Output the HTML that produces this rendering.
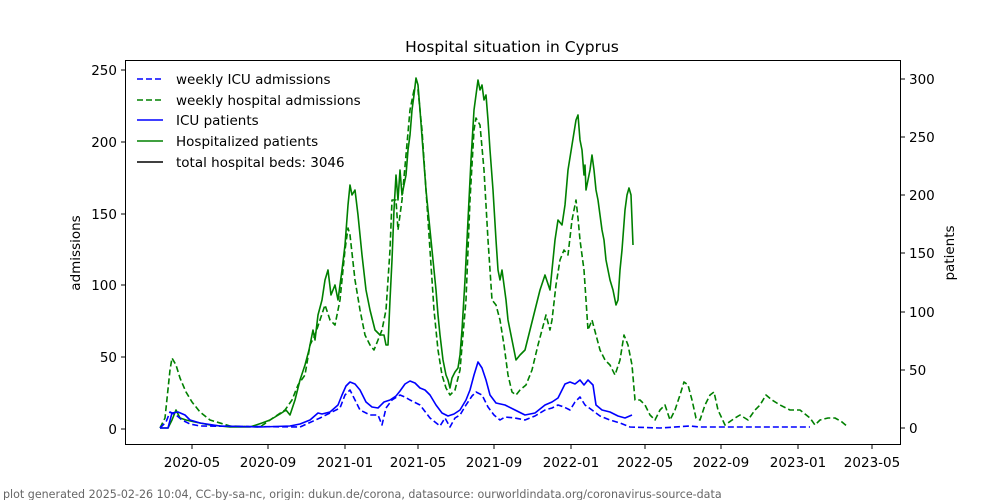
<!DOCTYPE html>
<html><head><meta charset="utf-8"><style>body{margin:0;background:#fff}svg{display:block;font-family:"DejaVu Sans","Liberation Sans",sans-serif}</style></head><body>
<svg width="1000" height="500" viewBox="0 0 1000 500">
<rect width="1000" height="500" fill="#fff"/>
<text x="512" y="52" font-size="15.5" text-anchor="middle">Hospital situation in Cyprus</text>
<g fill="none" stroke-width="1.6" stroke-linejoin="round">
<polyline stroke="green" stroke-dasharray="6,3" points="160,428 165,418 170,370 172,358 176,365 180,378 186,392 192,402 200,412 210,420 230,426 260,427 270,420 285,410 292,400 298,385 305,375 310,345 315,335 320,320 325,305 330,320 335,325 340,300 345,250 348,228 350,235 355,280 360,310 365,335 370,345 374,350 378,340 382,330 386,310 390,250 392,200 396,200 398,230 402,200 406,155 410,110 414,90 418,90 422,130 426,190 430,250 434,310 438,350 442,375 446,388 450,395 455,390 460,370 466,300 470,200 474,130 476,118 480,125 484,170 488,240 492,300 496,305 500,320 504,345 508,375 512,392 516,395 520,390 526,385 532,370 538,345 542,330 546,315 550,330 552,320 556,285 560,260 564,250 568,255 572,220 576,200 578,218 580,240 584,270 588,330 592,320 596,335 600,350 605,360 610,365 615,375 620,360 624,335 628,345 632,365 635,400 640,400 645,405 650,415 655,420 660,410 665,405 670,420 675,410 680,395 684,382 688,385 692,400 696,418 700,420 705,405 710,395 714,392 718,410 725,425 735,418 740,415 748,420 755,410 760,405 766,395 772,400 780,405 790,410 800,410 810,418 815,425 820,420 828,418 835,418 842,422 848,427"/>
<polyline stroke="green" points="160,428 168,428 172,420 176,410 180,418 186,420 195,422 210,425 230,427 250,427 262,423 270,420 280,414 286,410 290,415 295,400 300,380 305,365 309,350 313,330 315,340 318,315 322,300 325,280 328,270 331,295 335,285 338,300 342,270 345,245 348,205 350,185 352,195 355,190 358,215 362,255 366,290 370,310 375,330 380,335 384,335 386,345 388,345 390,300 392,260 394,210 396,175 398,200 400,170 402,195 404,185 406,175 408,150 410,135 412,110 414,95 416,78 418,85 420,110 423,150 426,190 430,230 433,260 436,290 438,315 440,335 443,360 446,375 448,380 450,388 452,378 455,372 458,368 460,355 462,330 465,280 468,220 471,160 474,110 476,95 478,80 480,90 482,85 484,100 486,95 488,120 490,150 493,190 496,240 498,270 500,280 502,270 504,285 506,300 508,320 512,340 516,360 520,355 525,350 530,330 535,310 540,290 545,275 550,290 552,270 555,240 558,220 562,225 565,205 568,170 572,145 576,120 578,115 580,140 582,150 584,175 585,165 586,190 588,180 590,170 592,155 594,170 596,190 598,200 600,215 602,230 604,240 606,260 610,280 613,290 616,305 618,300 620,270 622,250 625,210 627,195 629,188 631,195 633,245"/>
<polyline stroke="blue" stroke-dasharray="6,3" points="160,428 166,422 170,412 176,415 182,420 190,424 200,426 300,427 320,418 330,413 340,408 345,395 350,390 355,400 360,410 370,415 378,415 382,425 386,408 392,400 400,395 405,397 410,400 420,405 430,418 440,426 445,418 450,427 455,418 460,415 466,405 472,396 476,392 482,395 488,407 494,415 500,420 505,417 515,418 525,420 535,416 545,410 552,408 558,405 564,407 570,410 575,402 580,397 585,405 592,410 600,416 610,420 620,423 630,427 660,428 690,426 700,427 810,427"/>
<polyline stroke="blue" points="160,428 168,428 172,413 178,412 185,415 190,420 200,423 220,426 260,427 290,426 300,424 310,420 318,413 322,414 330,412 338,405 342,395 346,386 350,382 355,384 360,390 366,402 372,407 378,408 384,402 390,400 396,396 400,391 405,384 410,381 415,383 420,388 425,390 430,395 436,405 442,413 448,416 454,414 460,410 466,400 470,390 474,375 478,362 482,368 486,380 490,395 496,403 505,405 515,410 525,415 535,413 545,405 552,402 558,398 565,384 570,382 575,384 580,380 584,385 588,380 593,385 596,405 602,410 610,412 618,416 625,418 632,415"/>
</g>
<rect x="125.5" y="60.5" width="775" height="384" fill="none" stroke="#000" stroke-width="1"/>
<g stroke="#000" stroke-width="1">
<line x1="121" x2="125" y1="429" y2="429"/><line x1="121" x2="125" y1="357" y2="357"/><line x1="121" x2="125" y1="285" y2="285"/><line x1="121" x2="125" y1="214" y2="214"/><line x1="121" x2="125" y1="142" y2="142"/><line x1="121" x2="125" y1="70" y2="70"/>
<line x1="901" x2="905" y1="428" y2="428"/><line x1="901" x2="905" y1="370" y2="370"/><line x1="901" x2="905" y1="312" y2="312"/><line x1="901" x2="905" y1="253" y2="253"/><line x1="901" x2="905" y1="195" y2="195"/><line x1="901" x2="905" y1="137" y2="137"/><line x1="901" x2="905" y1="79" y2="79"/>
<line x1="192" x2="192" y1="445" y2="449"/><line x1="268" x2="268" y1="445" y2="449"/><line x1="345" x2="345" y1="445" y2="449"/><line x1="418" x2="418" y1="445" y2="449"/><line x1="494" x2="494" y1="445" y2="449"/><line x1="571" x2="571" y1="445" y2="449"/><line x1="645" x2="645" y1="445" y2="449"/><line x1="721" x2="721" y1="445" y2="449"/><line x1="798" x2="798" y1="445" y2="449"/><line x1="872" x2="872" y1="445" y2="449"/>
</g>
<g font-size="13.5" text-anchor="end">
<text x="117" y="434">0</text><text x="117" y="362">50</text><text x="117" y="290">100</text><text x="117" y="219">150</text><text x="117" y="147">200</text><text x="117" y="75">250</text>
</g>
<g font-size="13.5">
<text x="909" y="433">0</text><text x="909" y="375">50</text><text x="909" y="317">100</text><text x="909" y="258">150</text><text x="909" y="200">200</text><text x="909" y="142">250</text><text x="909" y="84">300</text>
</g>
<g font-size="13.5" text-anchor="middle">
<text x="192" y="467">2020-05</text><text x="268" y="467">2020-09</text><text x="345" y="467">2021-01</text><text x="418" y="467">2021-05</text><text x="494" y="467">2021-09</text><text x="571" y="467">2022-01</text><text x="645" y="467">2022-05</text><text x="721" y="467">2022-09</text><text x="798" y="467">2023-01</text><text x="872" y="467">2023-05</text>
</g>
<text font-size="13.5" transform="translate(80,253) rotate(-90)" text-anchor="middle">admissions</text>
<text font-size="13.5" transform="translate(954,253) rotate(-90)" text-anchor="middle">patients</text>
<g stroke-width="1.6">
<line x1="137" x2="163" y1="79" y2="79" stroke="blue" stroke-dasharray="6,3"/>
<line x1="137" x2="163" y1="100" y2="100" stroke="green" stroke-dasharray="6,3"/>
<line x1="137" x2="163" y1="120" y2="120" stroke="blue"/>
<line x1="137" x2="163" y1="141" y2="141" stroke="green"/>
<line x1="137" x2="163" y1="162" y2="162" stroke="black"/>
</g>
<g font-size="13.5">
<text x="176" y="84">weekly ICU admissions</text><text x="176" y="105">weekly hospital admissions</text><text x="176" y="125">ICU patients</text><text x="176" y="146">Hospitalized patients</text><text x="176" y="167">total hospital beds: 3046</text>
</g>
<text x="3" y="498" font-size="11.1" fill="#666">plot generated 2025-02-26 10:04, CC-by-sa-nc, origin: dukun.de/corona, datasource: ourworldindata.org/coronavirus-source-data</text>
</svg>
</body></html>
